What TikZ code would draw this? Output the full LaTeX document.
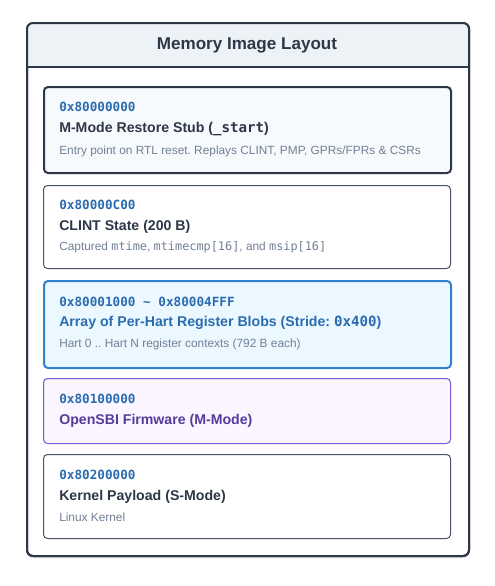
\documentclass[tikz,border=0pt]{standalone}
\usepackage{fontspec}
\setmainfont{Liberation Sans}
\setmonofont{DejaVu Sans Mono}
\usepackage{tikz}
\usetikzlibrary{positioning,calc,shadows}
\frenchspacing

\definecolor{ink}{HTML}{2D3748}
\definecolor{slate}{HTML}{4A5568}
\definecolor{muted}{HTML}{718096}
\definecolor{addrblue}{HTML}{2B6CB0}
\definecolor{hdrbg}{HTML}{EDF2F7}
\definecolor{stubbg}{HTML}{F7FAFC}
\definecolor{blobbg}{HTML}{EBF8FF}
\definecolor{blobline}{HTML}{3182CE}
\definecolor{sbibg}{HTML}{FAF5FF}
\definecolor{sbiline}{HTML}{805AD5}
\definecolor{sbiink}{HTML}{553C9A}

\begin{document}
\begin{tikzpicture}[x=0.75pt, y=-0.75pt,
    frame/.style={draw=ink, line width=1.5pt, rounded corners=4.5pt, anchor=north west, inner sep=0pt},
    region/.style={draw=slate, line width=0.75pt, fill=white, rounded corners=3pt, anchor=north west,
                   minimum width=305.25pt, inner sep=0pt},
    addr/.style={anchor=west, inner sep=0pt, text=addrblue, font=\ttfamily\bfseries\fontsize{9.5}{11}\selectfont},
    ttl/.style={anchor=west, inner sep=0pt, text=ink, font=\bfseries\fontsize{10.6}{12}\selectfont},
    desc/.style={anchor=west, inner sep=0pt, text=muted, font=\fontsize{8.9}{11}\selectfont}]
  \useasboundingbox (0,0) rectangle (494,586);

  \node[frame, fill=white, minimum width=331.5pt, minimum height=399.75pt,
        drop shadow={shadow xshift=0pt, shadow yshift=-2pt, fill=black, opacity=0.07}] (layout) at (26,22) {};
  \begin{scope}
    \clip[rounded corners=4.5pt] (26,22) rectangle (468,555);
    \fill[hdrbg] (26,22) rectangle (468,67);                       % header band
  \end{scope}
  \draw[ink, line width=1.5pt] (layout.west |- 0,67) -- (layout.east |- 0,67);
  \node[frame, minimum width=331.5pt, minimum height=399.75pt] at (26,22) {};
  \node[text=ink, font=\bfseries\fontsize{12.8}{15}\selectfont] (hdr) at (247,45) {Memory Image Layout};

  \node[region, draw=ink, line width=1.5pt, fill=stubbg, minimum height=64.5pt] (stub) at (43,86) {};   % _start
  \node[addr] (stub-a) at ($(stub.north west)+(16,21)$) {0x80000000};
  \node[ttl]  (stub-t) at ($(stub.north west)+(16,43)$) {M-Mode Restore Stub (\texttt{\_start})};
  \node[desc] (stub-d) at ($(stub.north west)+(16,65)$) {Entry point on RTL reset. Replays CLINT, PMP, GPRs/FPRs \& CSRs};

  \node[region, minimum height=62.25pt] (clint) at (43,185) {};                                         % CLINT
  \node[addr] (clint-a) at ($(clint.north west)+(16,20)$) {0x80000C00};
  \node[ttl]  (clint-t) at ($(clint.north west)+(16,42)$) {CLINT State (200 B)};
  \node[desc] (clint-d) at ($(clint.north west)+(16,62)$) {Captured \texttt{mtime}, \texttt{mtimecmp[16]}, and \texttt{msip[16]}};

  \node[region, draw=blobline, line width=1.5pt, fill=blobbg, minimum height=65.25pt] (blobs) at (43,280) {}; % harts
  \node[addr] (blobs-a) at ($(blobs.north west)+(16,22)$) {0x80001000 \textasciitilde{} 0x80004FFF};
  \node[ttl, text=addrblue] (blobs-t) at ($(blobs.north west)+(16,43)$) {Array of Per-Hart Register Blobs (Stride: \texttt{0x400})};
  \node[desc] (blobs-d) at ($(blobs.north west)+(16,64)$) {Hart 0 .. Hart N register contexts (792 B each)};

  \node[region, draw=sbiline, fill=sbibg, minimum height=48.75pt] (sbi) at (43,378) {};                % OpenSBI
  \node[addr] (sbi-a) at ($(sbi.north west)+(16,21)$) {0x80100000};
  \node[ttl, text=sbiink] (sbi-t) at ($(sbi.north west)+(16,43)$) {OpenSBI Firmware (M-Mode)};

  \node[region, minimum height=63pt] (kernel) at (43,454) {};                                           % kernel
  \node[addr] (kernel-a) at ($(kernel.north west)+(16,21)$) {0x80200000};
  \node[ttl]  (kernel-t) at ($(kernel.north west)+(16,43)$) {Kernel Payload (S-Mode)};
  \node[desc] (kernel-d) at ($(kernel.north west)+(16,63)$) {Linux Kernel};
\end{tikzpicture}
\end{document}
